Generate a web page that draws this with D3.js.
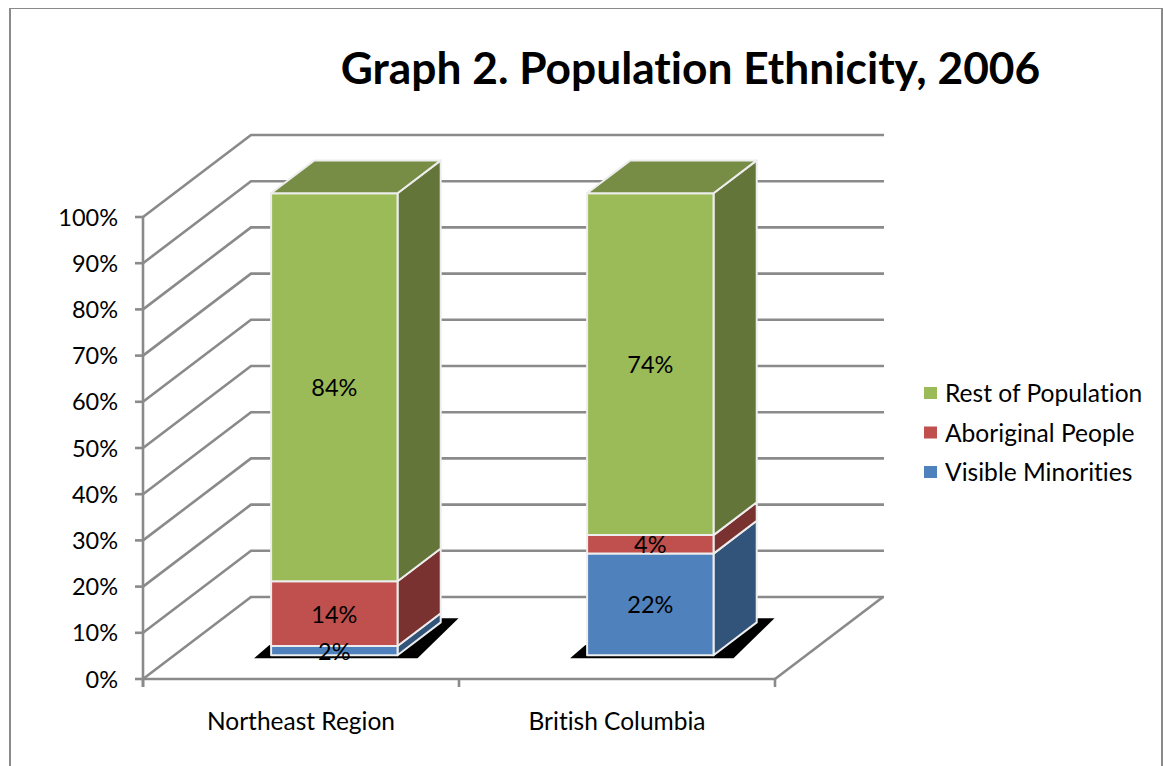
<!DOCTYPE html>
<html><head><meta charset="utf-8">
<script src="https://cdn.jsdelivr.net/npm/d3@7/dist/d3.min.js"></script>
<style>html,body{margin:0;padding:0;background:#fff;overflow:hidden}svg{display:block}text{font-family:Lato,"Open Sans",sans-serif;fill:#000;font-variant-ligatures:none}</style>
</head><body><svg id="c" width="1163" height="766"></svg>
<script>
const categories = ["Northeast Region", "British Columbia"];
const visibleMinorities = [2, 22];
const aboriginalPeople = [14, 4];
const restOfPopulation = [84, 74];
const tickValues = [0,10,20,30,40,50,60,70,80,90,100];
const legendLabels = ["Rest of Population", "Aboriginal People", "Visible Minorities"];
const titleText = "Graph 2. Population Ethnicity, 2006";
const faceColors = ["#4F81BD", "#C0504D", "#9BBB59"];
const sideColors = ["#33547A", "#7A3230", "#647539"];
const topColor = "#778D45";
const axisColor = "#8A8A8A";

const svg = d3.select("#c");
const x = d3.scaleBand().domain(categories).range([143, 775]);
const y = d3.scaleLinear().domain([0, 100]).range([679, 217]);
const wallDx = 108, wallDy = 82;
const proj = (px, v, d) => [px + d * wallDx, y(v) - d * wallDy];
const line = pts => "M" + pts.map(p => p.join(",")).join("L");
const poly = pts => line(pts) + "Z";

// frame
svg.append("rect").attr("x", 9).attr("y", 8).attr("width", 1152).attr("height", 1).attr("fill", axisColor);
svg.append("rect").attr("x", 9).attr("y", 8).attr("width", 2).attr("height", 758).attr("fill", axisColor);
svg.append("rect").attr("x", 1161).attr("y", 8).attr("width", 2).attr("height", 758).attr("fill", axisColor);

// title
svg.append("text").attr("x", 690.5).attr("y", 83.5).attr("text-anchor", "middle")
  .attr("font-size", 44.3).attr("font-weight", 700).text(titleText);

// walls and gridlines
const grid = svg.append("g").attr("fill", "none").attr("stroke", axisColor).attr("stroke-width", 2.6);
tickValues.forEach(v => {
  grid.append("path").attr("d", line([proj(143, v, 0), proj(143, v, 1), proj(776, v, 1)]));
});
grid.append("path").attr("d", line([proj(775, 0, 0), proj(775, 0, 1)]));
grid.append("path").attr("d", line([[143, y(100)], [143, y(0) + 8]]));
grid.append("path").attr("d", line([[143, y(0)], [775, y(0)]]));
tickValues.forEach(v => grid.append("path").attr("d", line([[135, y(v)], [143, y(v)]])));
[143, 459, 775].forEach(t => grid.append("path").attr("d", line([[t, y(0)], [t, y(0) + 8]])));

// tick labels
svg.append("g").selectAll("text").data(tickValues).join("text")
  .attr("x", 118).attr("y", d => y(d) + 8.5).attr("text-anchor", "end")
  .attr("font-size", 23.5).text(d => d + "%");

// bars
const dFront = 0.29, dBack = 0.69, shift = 2;
const barW = x.bandwidth() * 0.4;
const series = [visibleMinorities, aboriginalPeople, restOfPopulation];
const bars = svg.append("g");
categories.forEach((c, i) => {
  const x0 = x(c) + (x.bandwidth() - barW) / 2 + shift, x1 = x0 + barW;
  const fx0 = proj(x0, 0, dFront)[0], fx1 = proj(x1, 0, dFront)[0];
  const by = v => proj(x0, v, dFront)[1];
  // shadow
  bars.append("path").attr("fill", "#000").attr("d", poly([
    [fx0 - 17, by(0) + 3],
    [fx0 - 2, by(0) - 10],
    [fx1 + 43, by(0) - 37],
    [fx1 + 61, by(0) - 37],
    [fx1 + 20, by(0) + 3]
  ]));
  let acc = 0;
  series.forEach((s, k) => {
    const v0 = acc, v1 = acc + s[i];
    acc = v1;
    const g = bars.append("g").attr("stroke", "#EDEDED").attr("stroke-width", 2).attr("stroke-linejoin", "round");
    g.append("path").attr("fill", sideColors[k]).attr("d", poly([
      proj(x1, v0, dFront), proj(x1, v1, dFront), proj(x1, v1, dBack), proj(x1, v0, dBack)]));
    g.append("path").attr("fill", faceColors[k]).attr("d", poly([
      [fx0, by(v0)], [fx1, by(v0)], [fx1, by(v1)], [fx0, by(v1)]]));
    if (k === series.length - 1) {
      g.append("path").attr("fill", topColor).attr("d", poly([
        proj(x0, v1, dFront), proj(x1, v1, dFront), proj(x1, v1, dBack), proj(x0, v1, dBack)]));
    }
  });
  // data labels
  acc = 0;
  series.forEach(s => {
    const mid = acc + s[i] / 2; acc += s[i];
    bars.append("text").attr("x", (fx0 + fx1) / 2).attr("y", by(mid) + 9)
      .attr("text-anchor", "middle").attr("font-size", 23.5).text(s[i] + "%");
  });
});

// category labels
svg.append("g").selectAll("text").data(categories).join("text")
  .attr("x", d => x(d) + x.bandwidth() / 2).attr("y", 729.5).attr("text-anchor", "middle")
  .attr("font-size", 24.5).text(d => d);

// legend
const legendColors = [faceColors[2], faceColors[1], faceColors[0]];
const lg = svg.append("g").selectAll("g").data(legendLabels).join("g")
  .attr("transform", (d, i) => `translate(924,${387 + i * 39.5})`);
lg.append("rect").attr("width", 13).attr("height", 12).attr("fill", (d, i) => legendColors[i]);
lg.append("text").attr("x", 21).attr("y", 15).attr("font-size", 24.6).text(d => d);
</script></body></html>
